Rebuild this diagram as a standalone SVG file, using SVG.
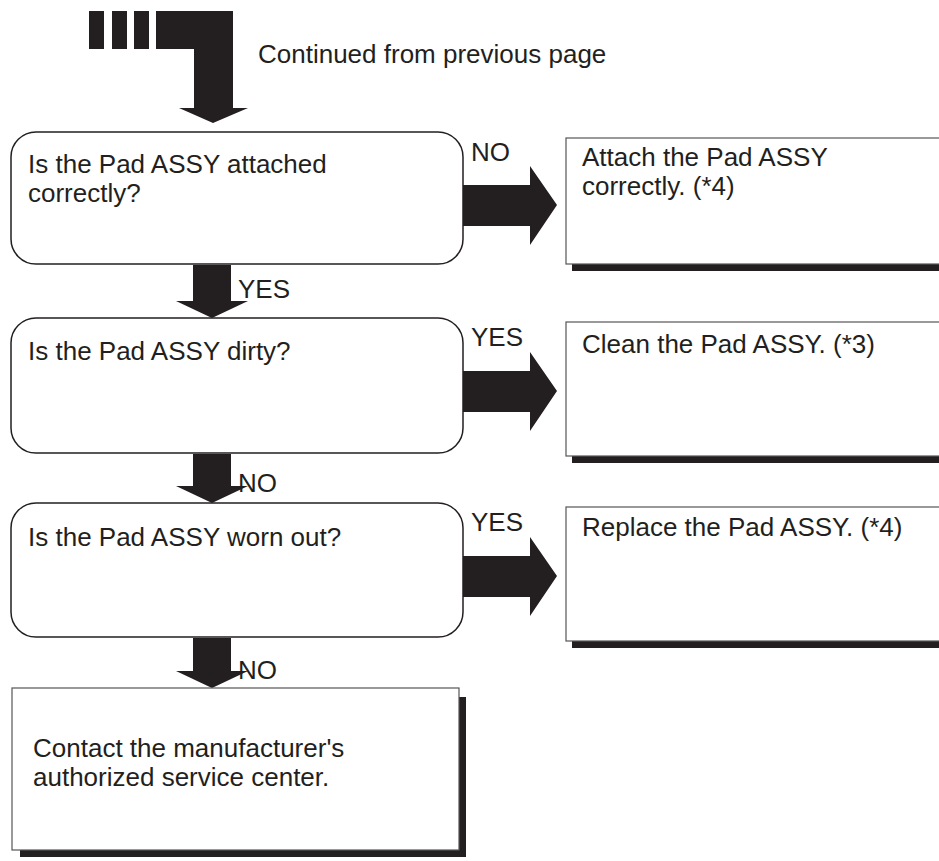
<svg xmlns="http://www.w3.org/2000/svg" width="939" height="861" viewBox="0 0 939 861">
<style>
text{font-family:"Liberation Sans",Arial,sans-serif;font-size:26px;fill:#231f20}
.dec{fill:#fff;stroke:#231f20;stroke-width:1.5}
.act{fill:#fff;stroke:#555;stroke-width:1.2}
.blk{fill:#231f20}
</style>
<rect width="939" height="861" fill="#fff"/>
<g id="connectors">
<g id="start-arrow">
<rect class="blk" x="89" y="11" width="15" height="38"/>
<rect class="blk" x="112" y="11" width="15" height="38"/>
<rect class="blk" x="134" y="11" width="15" height="38"/>
<polygon class="blk" points="156,11 233,11 233,108 248,108 213,123 179,108 194,108 194,49 156,49"/>
</g>
<polygon class="blk" points="463,185 530,185 530,166 557,205 530,245 530,226 463,226"/>
<polygon class="blk" points="463,371 530,371 530,352 557,391 530,431 530,412 463,412"/>
<polygon class="blk" points="463,556 530,556 530,537 557,576 530,616 530,597 463,597"/>
<polygon class="blk" points="193,265 231,265 231,301 248,301 212,318 176,301 193,301"/>
<polygon class="blk" points="193,454 231,454 231,486 248,486 212,503 176,486 193,486"/>
<polygon class="blk" points="193,638 231,638 231,671 248,671 212,688 176,671 193,671"/>
<text x="471" y="161">NO</text>
<text x="238" y="298">YES</text>
<text x="471" y="346">YES</text>
<text x="238" y="492">NO</text>
<text x="471" y="531">YES</text>
<text x="238" y="679">NO</text>
</g>
<text x="258" y="63">Continued from previous page</text>
<g id="q1">
<rect class="dec" x="11" y="132" width="452" height="132" rx="25"/>
<text x="28" y="173">Is the Pad ASSY attached</text>
<text x="28" y="202">correctly?</text>
</g>
<g id="a1">
<rect class="blk" x="572" y="264" width="380" height="7"/>
<rect class="act" x="566" y="138" width="380" height="126"/>
<text x="582" y="166">Attach the Pad ASSY</text>
<text x="582" y="195">correctly. (*4)</text>
</g>
<g id="q2">
<rect class="dec" x="11" y="318" width="452" height="135" rx="25"/>
<text x="28" y="360">Is the Pad ASSY dirty?</text>
</g>
<g id="a2">
<rect class="blk" x="572" y="456" width="380" height="7"/>
<rect class="act" x="566" y="322" width="380" height="134"/>
<text x="582" y="353">Clean the Pad ASSY. (*3)</text>
</g>
<g id="q3">
<rect class="dec" x="11" y="503" width="452" height="134" rx="25"/>
<text x="28" y="546">Is the Pad ASSY worn out?</text>
</g>
<g id="a3">
<rect class="blk" x="572" y="641" width="380" height="7"/>
<rect class="act" x="566" y="507" width="380" height="134"/>
<text x="582" y="536">Replace the Pad ASSY. (*4)</text>
</g>
<g id="end">
<rect class="blk" x="20" y="697" width="446" height="160"/>
<rect class="act" x="12" y="688" width="447" height="162"/>
<text x="33" y="757">Contact the manufacturer's</text>
<text x="33" y="786">authorized service center.</text>
</g>
</svg>
